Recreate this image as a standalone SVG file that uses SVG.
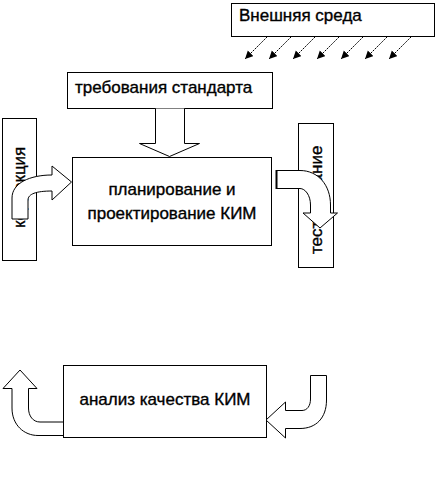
<svg xmlns="http://www.w3.org/2000/svg" width="436" height="497" viewBox="0 0 436 497">
<style>
.box{fill:#fff;stroke:#000;stroke-width:1}
.t{font-family:"Liberation Sans",Arial,sans-serif;font-size:17px;fill:#000;stroke:#000;stroke-width:0.35}
.blk{fill:#fff;stroke:#000;stroke-width:1}
.ds{stroke:#000;stroke-width:1;stroke-dasharray:2,1;fill:none}
</style>
<defs>
<marker id="ah" markerUnits="userSpaceOnUse" markerWidth="10" markerHeight="10" refX="8" refY="4" orient="auto">
<path d="M0,0 L8,4 L0,8 Z" fill="#000"/>
</marker>
</defs>
<rect width="436" height="497" fill="#fff"/>
<g id="env">
<rect class="box" x="231.5" y="3.5" width="203" height="33"/>
<text class="t" x="239" y="21">Внешняя среда</text>
</g>
<g id="std">
<rect class="box" x="67.5" y="72.5" width="205" height="36"/>
<text class="t" x="75" y="93">требования стандарта</text>
</g>
<g id="corr">
<rect class="box" x="2.5" y="118.5" width="34" height="142"/>
<text class="t" transform="translate(25,228) rotate(-90)">коррекция</text>
</g>
<g id="test">
<rect class="box" x="298.5" y="123.5" width="35" height="144"/>
<text class="t" transform="translate(322,254) rotate(-90)">тестирование</text>
</g>
<g id="plan">
<rect class="box" x="72.5" y="157.5" width="199" height="88"/>
<text class="t" x="172" y="195" text-anchor="middle">планирование и</text>
<text class="t" x="172" y="219" text-anchor="middle">проектирование КИМ</text>
</g>
<g id="anal">
<rect class="box" x="63.5" y="365.5" width="203" height="72"/>
<text class="t" x="165" y="405" text-anchor="middle">анализ качества КИМ</text>
</g>
<g id="connectors">
<line class="ds" x1="267" y1="37" x2="245" y2="59" marker-end="url(#ah)"/>
<line class="ds" x1="291" y1="37" x2="269" y2="59" marker-end="url(#ah)"/>
<line class="ds" x1="315" y1="37" x2="293" y2="59" marker-end="url(#ah)"/>
<line class="ds" x1="339" y1="37" x2="317" y2="59" marker-end="url(#ah)"/>
<line class="ds" x1="363" y1="37" x2="341" y2="59" marker-end="url(#ah)"/>
<line class="ds" x1="387" y1="37" x2="365" y2="59" marker-end="url(#ah)"/>
<line class="ds" x1="411" y1="37" x2="389" y2="59" marker-end="url(#ah)"/>
<path class="blk" d="M155.5,108.5 L155.5,143.5 L139.5,143.5 L169.5,156.5 L199.5,143.5 L184.5,143.5 L184.5,108.5"/>
<path class="blk" d="M71.5,182 L52,166 L52,175 C30,175 12,183 12,198 L12,219 L28,219 L28,200 C28,194 36,191 52,191 L52,200 Z"/>
<path class="blk" d="M276.5,170.5 L300,170.5 C318,170.5 330.5,185 330.5,205 L330.5,213 L337.5,213 L320,228 L303,213 L310.5,213 L310.5,205 C310.5,195 305,188.5 300,188.5 L276.5,188.5 Z"/>
<line x1="276.5" y1="170" x2="276.5" y2="189" stroke="#000" stroke-width="2"/>
<path class="blk" d="M63,422 L40,422 C33,422 28.5,416 28.5,408 L28.5,388.5 L37,388.5 L20,370 L3,388.5 L12,388.5 L12,408 C12,425 24,435.5 38,435.5 L63,435.5"/>
<path class="blk" d="M266,420 L285.5,402 L285.5,410.5 L302,410.5 C307,410.5 310.5,406 310.5,399 L310.5,375.5 L326.5,375.5 L326.5,400 C326.5,418 316,428.5 300,428.5 L285.5,428.5 L285.5,438 Z"/>
</g>
</svg>
